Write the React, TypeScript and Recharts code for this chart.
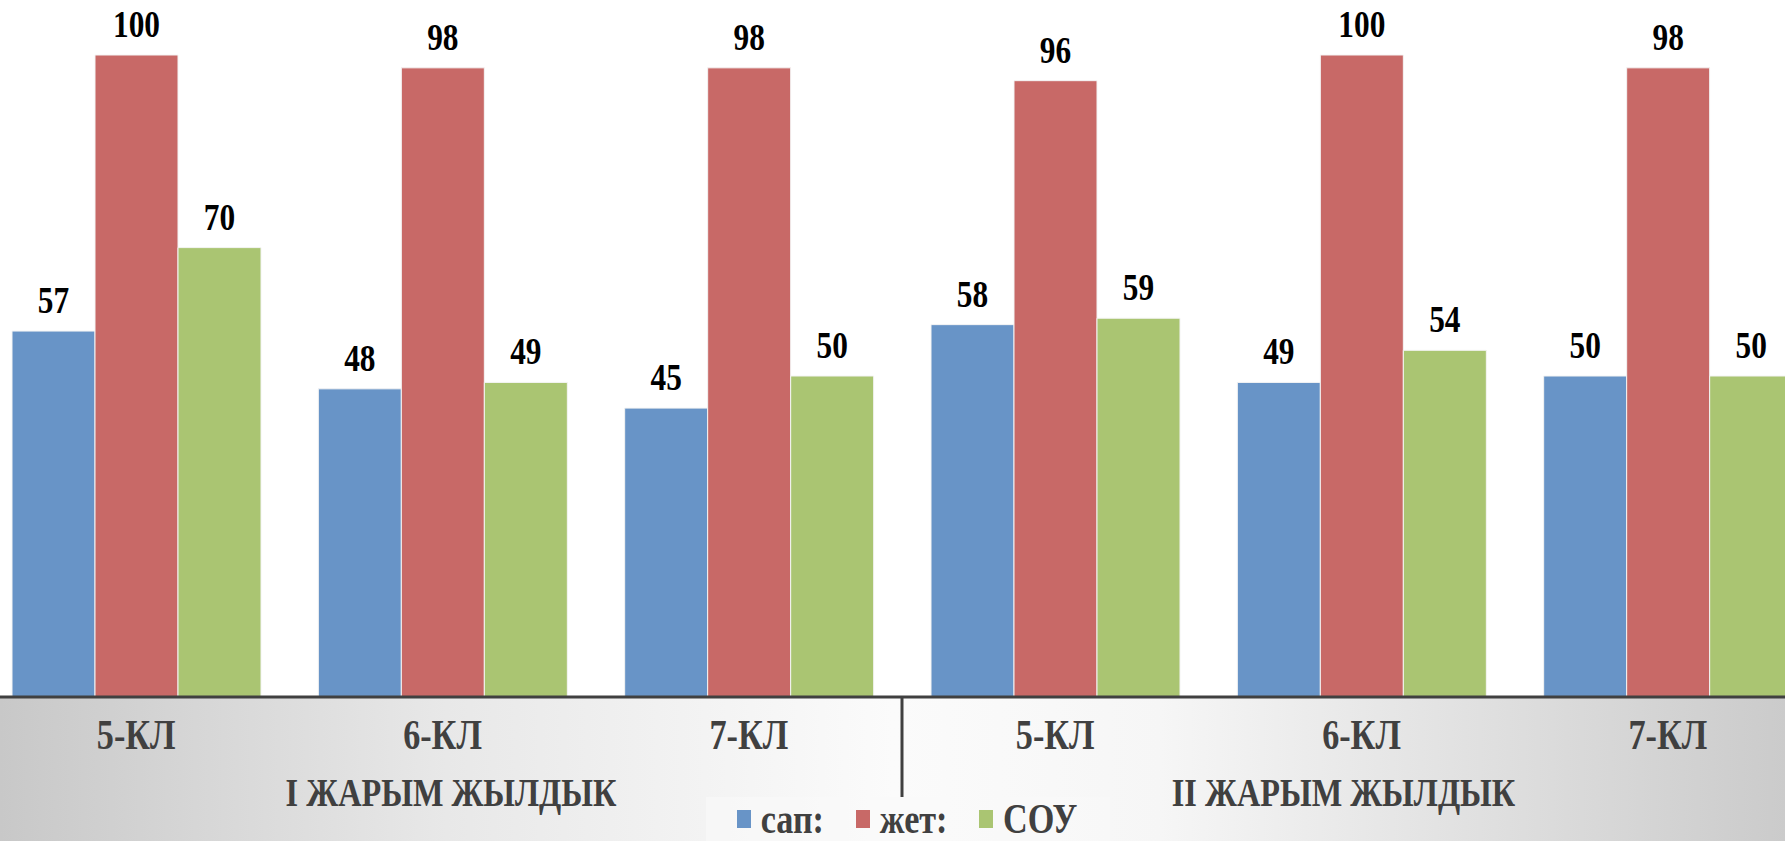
import React from "react"
import { BarChart, Bar, XAxis, YAxis, LabelList } from "recharts"

// data
const classes = ["5-КЛ", "6-КЛ", "7-КЛ", "5-КЛ", "6-КЛ", "7-КЛ"]
const halves = ["I ЖАРЫМ ЖЫЛДЫК", "I ЖАРЫМ ЖЫЛДЫК", "I ЖАРЫМ ЖЫЛДЫК", "II ЖАРЫМ ЖЫЛДЫК", "II ЖАРЫМ ЖЫЛДЫК", "II ЖАРЫМ ЖЫЛДЫК"]
const sap = [57, 48, 45, 58, 49, 50]
const zhet = [100, 98, 98, 96, 100, 98]
const sou = [70, 49, 50, 59, 54, 50]

const seriesNames = ["сап:", "жет:", "СОУ"]
const seriesKeys = ["sap", "zhet", "sou"]
const COLORS = ["#6894c7", "#c86967", "#aac572"]

const data = classes.map((cls, i) => ({
  id: i,
  cls,
  half: halves[i],
  sap: sap[i],
  zhet: zhet[i],
  sou: sou[i],
}))

const FONT = "'Liberation Serif', 'DejaVu Serif', 'Times New Roman', serif"
const CHART_W = 1838
const CHART_H = 841
const SHIFT = 17 // the chart runs past both edges of the frame

// the slide text is a little stretched vertically
const Tall = ({ x, y, size, fill, children }: any) => (
  <g transform={`translate(${x},${y}) scale(0.95,1.18)`}>
    <text x={0} y={0} textAnchor="middle" style={{ fontFamily: FONT, fontWeight: 700, fontSize: size }} fill={fill}>
      {children}
    </text>
  </g>
)

const ClassTick = ({ x, y, index }: any) => (
  <Tall x={x} y={y + 52} size={36} fill="#404040">
    {classes[index]}
  </Tall>
)

const HalfTick = ({ x, y, payload, index }: any) => {
  const half = CHART_W / 4
  const left = Math.max(x - half, SHIFT)
  const right = Math.min(x + half, SHIFT + 1785)
  const cx = (left + right) / 2
  return (
    <g>
      {index === 0 && (
        <line x1={x + half} x2={x + half} y1={y - 80} y2={y + 20} stroke="#404040" strokeWidth={3} />
      )}
      <Tall x={cx} y={y + 29} size={34} fill="#404040">
        {payload.value}
      </Tall>
    </g>
  )
}

const ValueLabel = ({ x, y, width, value }: any) => (
  <Tall x={x + width / 2} y={y - 18} size={33} fill="#000">
    {value}
  </Tall>
)

export default function App() {
  return (
    <div style={{ position: "fixed", left: 0, top: 0, width: 1785, height: 841, overflow: "hidden", background: "#fff" }}>
      <div
        style={{
          position: "absolute",
          left: 0,
          top: 697,
          width: 1785,
          height: 144,
          background: "linear-gradient(to right, #c8c8c8 0%, #e8e8e8 25%, #fbfbfb 50%, #f6f6f6 65%, #cbcbcb 100%)",
        }}
      />
      <div style={{ position: "absolute", left: -SHIFT, top: 0 }}>
        <BarChart width={CHART_W} height={CHART_H} data={data} margin={{ top: 55, right: 0, left: 0, bottom: 0 }} barGap={0} barSize={83}>
          <XAxis xAxisId="cls" dataKey="id" height={80} tickLine={false} tickSize={0} tickMargin={0} axisLine={{ stroke: "#404040", strokeWidth: 3 }} tick={<ClassTick />} interval={0} />
          <XAxis xAxisId="half" dataKey="half" allowDuplicatedCategory={false} height={64} tickLine={false} tickSize={0} tickMargin={0} axisLine={false} tick={<HalfTick />} interval={0} />
          <YAxis hide domain={[0, 100]} />
          {seriesKeys.map((k, i) => (
            <Bar key={k} xAxisId="cls" dataKey={k} name={seriesNames[i]} fill={COLORS[i]} stroke="#f4f4f4" strokeWidth={1} isAnimationActive={false}>
              <LabelList dataKey={k} content={<ValueLabel />} />
            </Bar>
          ))}
        </BarChart>
      </div>
      <div
        style={{
          position: "absolute",
          left: 706,
          top: 797,
          width: 404,
          height: 44,
          background: "rgba(250,250,250,0.55)",
          display: "flex",
          alignItems: "center",
          justifyContent: "center",
          gap: 30,
          fontFamily: FONT,
          fontWeight: 700,
          fontSize: 36,
          color: "#404040",
        }}
      >
        {seriesNames.map((n, i) => (
          <div key={n} style={{ display: "flex", alignItems: "center", gap: 8 }}>
            <span style={{ display: "inline-block", width: 14, height: 18, background: COLORS[i] }} />
            <span style={{ display: "inline-block", transform: "scale(0.95,1.15)" }}>{n}</span>
          </div>
        ))}
      </div>
    </div>
  )
}
